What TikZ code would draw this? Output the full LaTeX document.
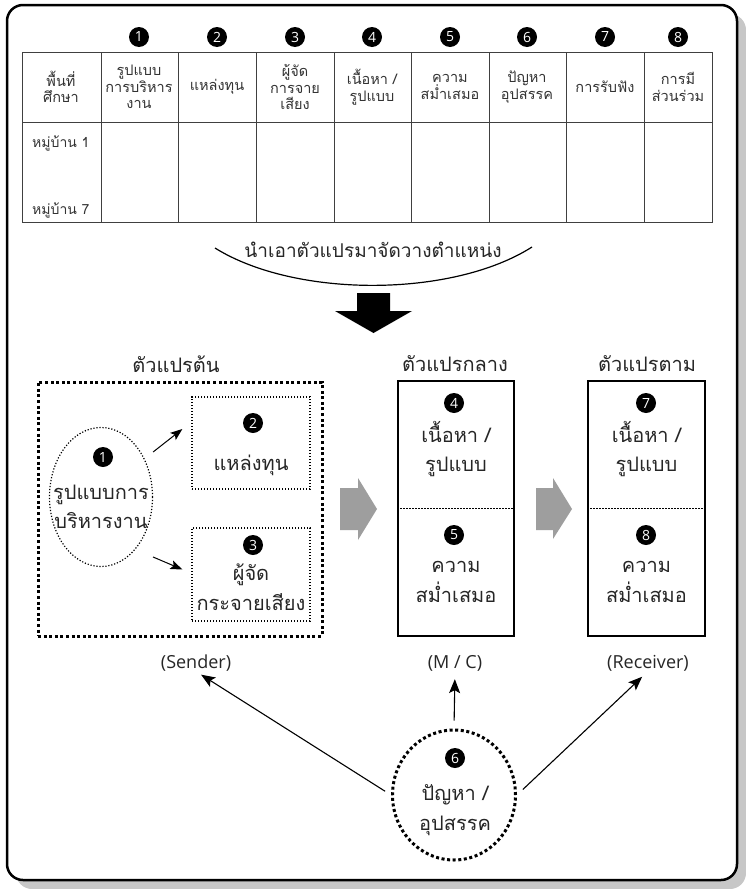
\documentclass[tikz,border=0pt]{standalone}
\usepackage{fontspec}
\setmainfont{Open Sans}
\newfontfamily\thaifont[Script=Thai]{Loma}
\usetikzlibrary{positioning,arrows.meta,shapes.geometric}

\begin{document}
\begin{tikzpicture}[x=1pt, y=-1pt,
  >={Stealth[length=14pt,width=11pt,inset=3pt]},
  cell/.style   ={align=center, inner sep=0pt, text=black!80,
                  font=\thaifont\fontsize{14.5}{16.5}\selectfont},
  rowlbl/.style ={anchor=west, inner sep=0pt, text=black!80,
                  font=\thaifont\fontsize{14}{16}\selectfont},
  num/.style    ={circle, fill=black, text=white, inner sep=0pt,
                  minimum size=20pt, font=\fontsize{14}{14}\selectfont},
  head/.style   ={inner sep=0pt, text=black!85,
                  font=\thaifont\fontsize{20}{22}\selectfont},
  body/.style   ={align=center, inner sep=0pt, text=black!85,
                  font=\thaifont\fontsize{20}{29.5}\selectfont},
  role/.style   ={inner sep=0pt, text=black!85,
                  font=\fontsize{18}{20}\selectfont},
  tbl/.style    ={draw=black!75, line width=.9pt},
  dotthin/.style={draw, line width=1.2pt, dash pattern=on 1.2pt off 1.8pt},
  dotfat/.style ={draw, line width=3pt, dash pattern=on 3pt off 2.6pt},
  panel/.style  ={draw, line width=1.4pt},
  blockarr/.style={fill=black!38},
  conn/.style   ={->, line width=1.1pt},
  sconn/.style  ={-{Stealth[length=12pt,width=9pt,inset=2.5pt]}, line width=1pt}]

  \useasboundingbox (0,0) rectangle (746,889);

  % --- frame -------------------------------------------------------------
  \fill[black!22, rounded corners=16pt] (16,14) rectangle (746,889);
  \draw[line width=2.5pt, fill=white, rounded corners=16pt]
    (7,5) rectangle (737,880);

  % --- table -------------------------------------------------------------
  \draw[tbl] (22,52) rectangle (712,222);
  \draw[tbl] (22,122) -- (712,122);
  \foreach \x in {101,178,256,334,411,489,566,644}
    \draw[tbl] (\x,52) -- (\x,222);

  \foreach \i/\x in {1/139,2/217,3/295,4/372,5/450,6/527,7/605,8/678}
    \node[num] (n\i) at (\x,37) {\i};

  \node[cell] (area)   at (61,87)  {พื้นที่\\ศึกษา};
  \node[cell] (mgmt)   at (139,87) {รูปแบบ\\การบริหาร\\งาน};
  \node[cell] (fund)   at (217,87) {แหล่งทุน};
  \node[cell] (org)    at (295,87) {ผู้จัด\\การจาย\\เสียง};
  \node[cell] (cont)   at (372,87) {เนื้อหา /\\รูปแบบ};
  \node[cell] (reg)    at (450,87) {ความ\\สม่ำเสมอ};
  \node[cell] (prob)   at (527,87) {ปัญหา\\อุปสรรค};
  \node[cell] (listen) at (605,87) {การรับฟัง};
  \node[cell] (part)   at (678,87) {การมี\\ส่วนร่วม};

  \node[rowlbl] (v1) at (32,143) {หมู่บ้าน 1};
  \node[rowlbl] (v7) at (32,210) {หมู่บ้าน 7};

  % --- placing the variables --------------------------------------------
  \node[head, font=\thaifont\fontsize{19}{22}\selectfont] (place)
    at (373,250) {นำเอาตัวแปรมาจัดวางตำแหน่ง};
  \draw[line width=1.2pt] (215,248) .. controls (295,298) and (452,298) .. (532,247);
  \fill (357,293) -- (390,293) -- (390,311) -- (412,311) -- (373.5,333)
    -- (335,311) -- (357,311) -- cycle;

  % --- independent variables ---------------------------------------------
  \node[head] (indep) at (176,364) {ตัวแปรต้น};
  \node[dotfat, minimum width=284, minimum height=254] (src) at (180,509) {};

  \node[dotthin, ellipse, minimum width=103, minimum height=139] (e1) at (101,497) {};
  \node[num] (c1) at (103,457) {1};
  \node[body] (t1) at (101,507) {รูปแบบการ\\บริหารงาน};

  \node[dotthin, minimum width=118, minimum height=92] (b2) at (251,443) {};
  \node[num] (c2) at (253,423) {2};
  \node[body] (t2) at (251,465) {แหล่งทุน};

  \node[dotthin, minimum width=118, minimum height=93] (b3) at (251,574.5) {};
  \node[num] (c3) at (253,545) {3};
  \node[body] (t3) at (251,587) {ผู้จัด\\กระจายเสียง};

  \draw[sconn] ([yshift=45pt]e1.east) -- ([xshift=-9pt,yshift=14pt]b2.west);
  \draw[sconn] ([yshift=-60pt]e1.east) -- ([xshift=-9pt,yshift=5pt]b3.west);

  \fill[blockarr] (340,488) -- (358,488) -- (358,478) -- (377,509)
    -- (358,540) -- (358,530) -- (340,530) -- cycle;

  % --- intervening variables ---------------------------------------------
  \node[head] (medi) at (455,364) {ตัวแปรกลาง};
  \node[panel, minimum width=116, minimum height=255] (mid) at (456,508.5) {};
  \draw[dotthin, line width=1pt] (mid.west) -- (mid.east);
  \node[num] (c4) at (454,403) {4};
  \node[body] (t4) at (456,449) {เนื้อหา /\\รูปแบบ};
  \node[num] (c5) at (454,535) {5};
  \node[body] (t5) at (456,582) {ความ\\สม่ำเสมอ};

  \fill[blockarr] (536,488) -- (553,488) -- (553,478) -- (572,509)
    -- (553,539) -- (553,530) -- (536,530) -- cycle;

  % --- dependent variables -----------------------------------------------
  \node[head] (dep) at (647,364) {ตัวแปรตาม};
  \node[panel, minimum width=117, minimum height=255] (rcv) at (646.5,508.5) {};
  \draw[dotthin, line width=1pt] (rcv.west) -- (rcv.east);
  \node[num] (c7) at (646,403) {7};
  \node[body] (t7) at (646.5,449) {เนื้อหา /\\รูปแบบ};
  \node[num] (c8) at (646,535) {8};
  \node[body] (t8) at (646.5,582) {ความ\\สม่ำเสมอ};

  % --- roles and obstacles -----------------------------------------------
  \node[role] (sender)   at (196,663) {(Sender)};
  \node[role] (mc)       at (455,663) {(M / C)};
  \node[role] (receiver) at (648,663) {(Receiver)};

  \node[dotfat, ellipse, minimum width=123, minimum height=130] (e6) at (454,795) {};
  \node[num] (c6) at (455,758) {6};
  \node[body] (t6) at (455,810) {ปัญหา /\\อุปสรรค};

  \draw[conn, shorten <=7pt, shorten >=6pt] (e6.west) -- (sender.south);
  \draw[conn, shorten <=8pt, shorten >=8pt] (e6.north) -- (mc.south);
  \draw[conn, shorten <=8pt, shorten >=8pt] (e6.east) -- (receiver.south);
\end{tikzpicture}
\end{document}
